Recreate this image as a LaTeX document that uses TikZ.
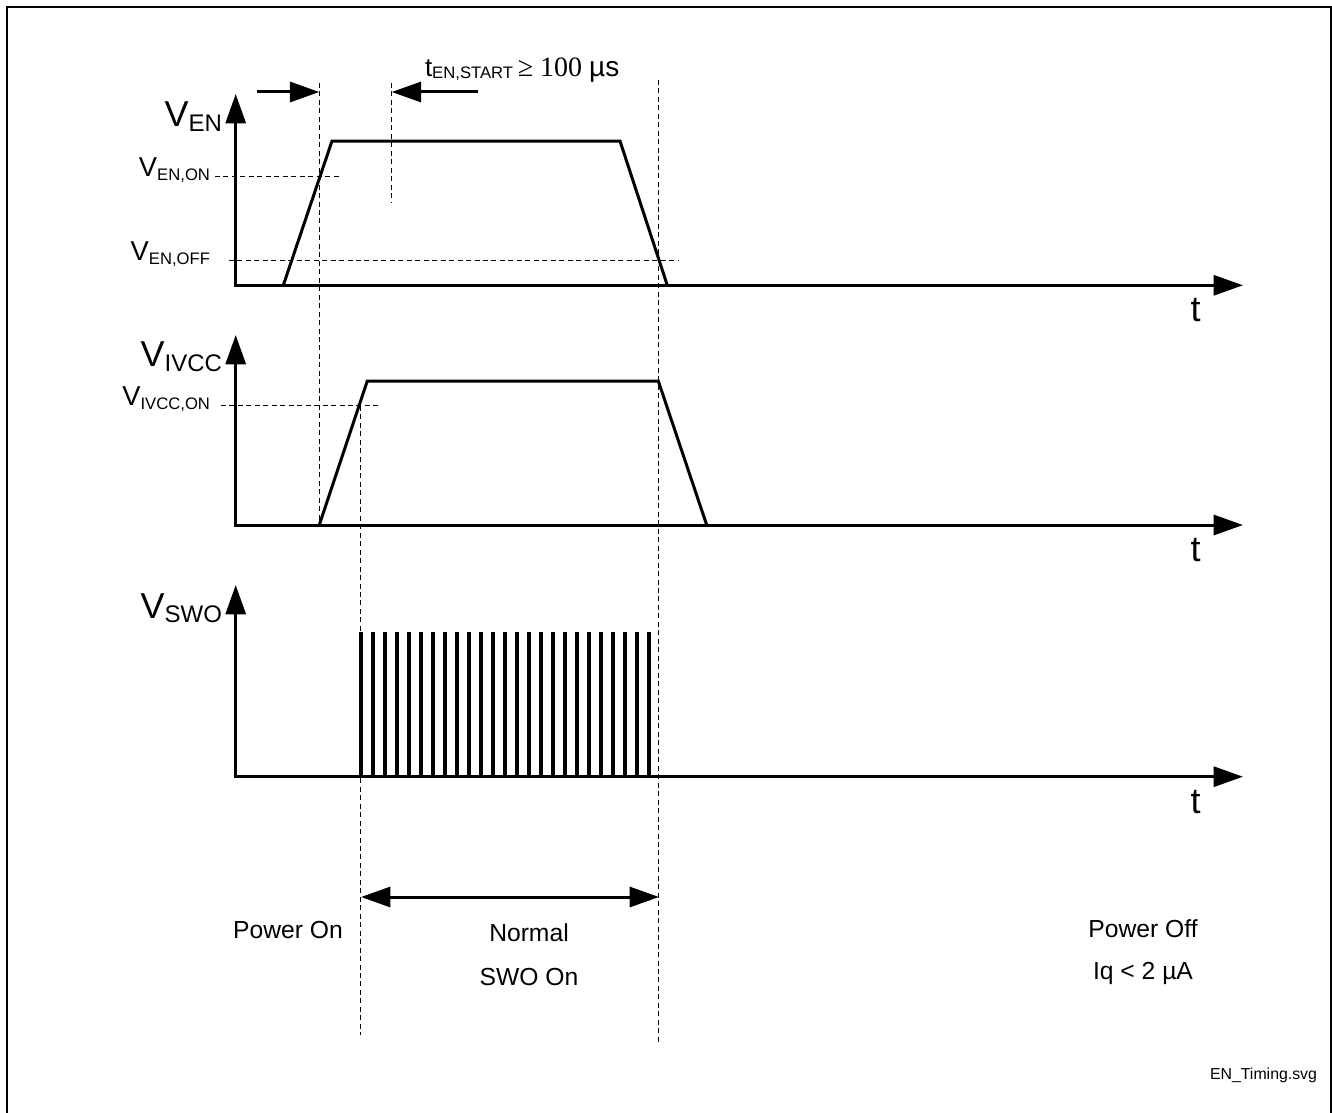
\documentclass[tikz,border=0pt]{standalone}
\usepackage{fontspec}
\setmainfont{Liberation Sans}
\newfontfamily\serifnum{Liberation Serif}
\usetikzlibrary{arrows.meta}
\newcommand{\bigsig}[1]{{\fontsize{27}{27}\selectfont V}\raisebox{-3.4pt}{\fontsize{18}{18}\selectfont #1}}
\newcommand{\smallsig}[1]{{\fontsize{20.5}{20.5}\selectfont V}\raisebox{-3pt}{\fontsize{12.5}{12.5}\selectfont #1}}
\newcommand{\fs}[1]{\fontsize{#1}{#1}\selectfont}
\begin{document}
\begin{tikzpicture}[x=0.75pt,y=-0.75pt,
  sig/.style={line width=2.25pt, line join=miter},
  pulse/.style={line width=2.4pt},
  dsh/.style={line width=0.75pt, dash pattern=on 3.75pt off 2.6pt},
  axisarrow/.style={line width=2.25pt, line join=miter, {Triangle[length=22pt,width=15pt]}-{Triangle[length=22pt,width=15pt]}},
  onearrow/.style={line width=2.25pt, -{Triangle[length=22pt,width=15pt]}},
  dblarrow/.style={line width=2.25pt, {Triangle[length=22pt,width=15pt]}-{Triangle[length=22pt,width=15pt]}},
  lbl/.style={inner sep=0pt, outer sep=0pt}]
\useasboundingbox (0,0) rectangle (1332,1113);
% frame
\draw[line width=1pt] (7,1116) -- (7,7) -- (1331,7) -- (1331,1116);

% axes
\coordinate (o1) at (235.7,285.3); \coordinate (y1) at (235.7,94);  \coordinate (x1) at (1243,285.3);
\coordinate (o2) at (235.7,525);   \coordinate (y2) at (235.7,335); \coordinate (x2) at (1243,525);
\coordinate (o3) at (235.7,776.7); \coordinate (y3) at (235.7,585); \coordinate (x3) at (1243,776.7);
\draw[axisarrow] (y1) -- (o1) -- (x1);
\draw[axisarrow] (y2) -- (o2) -- (x2);
\draw[axisarrow] (y3) -- (o3) -- (x3);

% dashed guides
\coordinate (d1a) at (319.3,83);  \coordinate (d1b) at (319.3,525);
\coordinate (d2a) at (391.7,83);  \coordinate (d2b) at (391.7,203);
\coordinate (d3a) at (658.3,80);  \coordinate (d3b) at (658.3,1042);
\coordinate (d4a) at (360,405.7); \coordinate (d4b) at (360,1035);
\coordinate (h1a) at (215,176.7); \coordinate (h1b) at (340,176.7);
\coordinate (h2a) at (229,260.7); \coordinate (h2b) at (678,260.7);
\coordinate (h3a) at (221,405.7); \coordinate (h3b) at (380,405.7);
\draw[dsh] (d1a) -- (d1b);
\draw[dsh] (d2a) -- (d2b);
\draw[dsh] (d3a) -- (d3b);
\draw[dsh] (d4a) -- (d4b);
\draw[dsh] (h1a) -- (h1b);
\draw[dsh] (h2a) -- (h2b);
\draw[dsh] (h3a) -- (h3b);

% V_EN waveform
\draw[sig] (283.3,285.3) -- (332,141) -- (620,141) -- (667.3,285.3);
% V_IVCC waveform
\draw[sig] (319.3,525) -- (367.3,381) -- (658.3,381) -- (706.7,525);
% SWO pulses
\foreach \k in {0,...,24} \draw[pulse] ({361+12*\k},776.7) -- ({361+12*\k},631.7);

% timing arrows
\coordinate (a1s) at (257,92);  \coordinate (a1e) at (319.3,92);
\coordinate (a2s) at (478,92);  \coordinate (a2e) at (391.7,92);
\draw[onearrow] (a1s) -- (a1e);
\draw[onearrow] (a2s) -- (a2e);
\coordinate (b1) at (361,897); \coordinate (b2) at (659,897);
\draw[dblarrow] (b1) -- (b2);

% labels
\node[lbl, anchor=base east] (ven) at (222,127) {\bigsig{EN}};
\node[lbl, anchor=base east] (vivcc) at (222,366.7) {\bigsig{IVCC}};
\node[lbl, anchor=base east] (vswo) at (222,618.3) {\bigsig{SWO}};
\node[lbl, anchor=base east] (venon) at (210,176.7) {\smallsig{EN,ON}};
\node[lbl, anchor=base east] (venoff) at (210,260.7) {\smallsig{EN,OFF}};
\node[lbl, anchor=base east] (vivccon) at (210,405) {\smallsig{IVCC,ON}};
\node[lbl, anchor=base] (t1) at (1195.5,321.7) {\fs{27}t};
\node[lbl, anchor=base] (t2) at (1195.5,561.4) {\fs{27}t};
\node[lbl, anchor=base] (t3) at (1195.5,813.1) {\fs{27}t};
\node[lbl, anchor=base west] (ten) at (425,76.7) {{\fs{19.5}t}\raisebox{-1pt}{\fs{12.5}EN,START}{\serifnum\fs{21}\,≥ 100 }{\fs{21}µs}};
\node[lbl, anchor=base] (pon) at (288,938.3) {\fs{18.5}Power On};
\node[lbl, anchor=base] (norm) at (529,941.7) {\fs{18.5}Normal};
\node[lbl, anchor=base] (swoon) at (529,985) {\fs{18.5}SWO On};
\node[lbl, anchor=base] (poff) at (1143,937) {\fs{18.5}Power Off};
\node[lbl, anchor=base] (iq) at (1143,979.5) {\fs{18.5}Iq < 2 µA};
\node[lbl, anchor=base east] (fname) at (1317,1079) {\fs{11.9}EN\_Timing.svg};
\end{tikzpicture}
\end{document}
